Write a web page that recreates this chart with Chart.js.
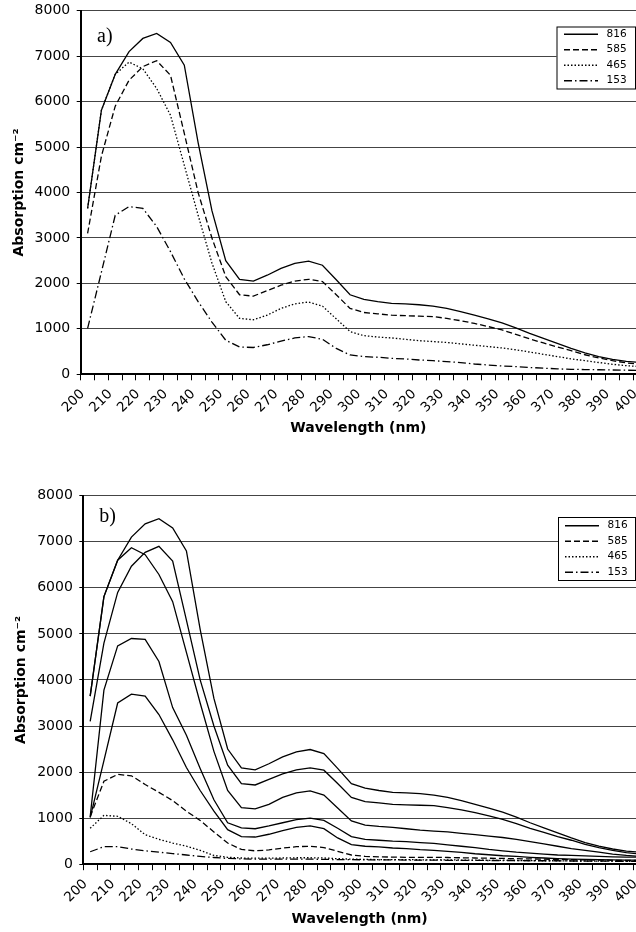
<!DOCTYPE html>
<html>
<head>
<meta charset="utf-8">
<script src="https://cdn.jsdelivr.net/npm/chart.js@4.4.1/dist/chart.umd.min.js"></script>
<style>
html, body { margin: 0; padding: 0; background: #fff; overflow: hidden; }
#wrapA { position: absolute; left: 0; top: 0; width: 636px; height: 440px; }
#wrapB { position: absolute; left: 0; top: 440px; width: 636px; height: 492px; }
canvas { display: block; }
</style>
</head>
<body>
<div id="wrapA"><canvas id="chartA" width="636" height="440"></canvas></div>
<div id="wrapB"><canvas id="chartB" width="636" height="492"></canvas></div>
<script>
// ---- data ----
const wavelengths = [202.5, 207.5, 212.5, 217.5, 222.5, 227.5, 232.5, 237.5, 242.5, 247.5,
  252.5, 257.5, 262.5, 267.5, 272.5, 277.5, 282.5, 287.5, 292.5, 297.5,
  302.5, 307.5, 312.5, 317.5, 322.5, 327.5, 332.5, 337.5, 342.5, 347.5,
  352.5, 357.5, 362.5, 367.5, 372.5, 377.5, 382.5, 387.5, 392.5, 397.5, 402.5];

const xTickValues = [200, 205, 210, 215, 220, 225, 230, 235, 240, 245, 250, 255, 260, 265, 270,
  275, 280, 285, 290, 295, 300, 305, 310, 315, 320, 325, 330, 335, 340, 345, 350, 355, 360,
  365, 370, 375, 380, 385, 390, 395, 400];
const yTickValues = [0, 1000, 2000, 3000, 4000, 5000, 6000, 7000, 8000];

const series816 = [3650, 5810, 6600, 7100, 7390, 7500, 7300, 6800, 5100, 3600,
  2500, 2090, 2050, 2180, 2330, 2440, 2490, 2400, 2080, 1750,
  1650, 1600, 1560, 1550, 1530, 1500, 1450, 1380, 1300, 1220,
  1130, 1020, 900, 790, 680, 570, 470, 390, 330, 285, 260];
const series585 = [3100, 4800, 5900, 6470, 6770, 6900, 6580, 5300, 4000, 3000,
  2150, 1750, 1720, 1840, 1960, 2050, 2090, 2040, 1750, 1450,
  1360, 1330, 1300, 1290, 1280, 1270, 1230, 1180, 1120, 1050,
  975, 880, 780, 690, 600, 520, 430, 360, 300, 250, 220];
const series465 = [3650, 5810, 6600, 6870, 6720, 6290, 5700, 4600, 3500, 2450,
  1600, 1230, 1200, 1300, 1450, 1550, 1590, 1500, 1220, 940,
  850, 820, 800, 770, 740, 720, 700, 670, 640, 610,
  580, 540, 490, 440, 390, 340, 300, 260, 220, 190, 170];
const series153 = [1010, 2250, 3500, 3690, 3650, 3250, 2700, 2100, 1600, 1150,
  750, 600, 590, 650, 730, 800, 830, 770, 570, 425,
  390, 375, 352, 337, 315, 300, 280, 257, 227, 205,
  183, 170, 150, 135, 120, 110, 105, 100, 95, 90, 85];
// panel b, additional curves
const seriesB4 = [1030, 3780, 4740, 4900, 4880, 4400, 3400, 2800, 2080, 1400,
  900, 790, 770, 830, 900, 970, 1000, 950, 780, 600,
  540, 520, 500, 490, 470, 450, 420, 390, 360, 320,
  290, 260, 240, 220, 200, 190, 180, 170, 160, 155, 150];
const seriesB6 = [1030, 1800, 1950, 1920, 1730, 1560, 1380, 1150, 950, 700,
  460, 320, 290, 310, 350, 380, 390, 360, 280, 200,
  170, 160, 155, 150, 150, 150, 145, 140, 135, 130,
  125, 120, 115, 110, 105, 100, 95, 90, 85, 80, 80];
const seriesB7 = [780, 1060, 1040, 880, 640, 540, 460, 390, 300, 190,
  150, 135, 130, 130, 135, 140, 140, 135, 120, 110,
  105, 100, 100, 100, 95, 95, 95, 90, 90, 85,
  85, 80, 80, 75, 75, 70, 70, 65, 65, 60, 60];
const seriesB8 = [270, 380, 380, 330, 290, 260, 230, 200, 170, 145,
  125, 115, 110, 110, 110, 110, 110, 105, 100, 100,
  95, 95, 95, 90, 90, 90, 85, 85, 85, 80,
  80, 80, 75, 75, 75, 70, 70, 65, 65, 60, 60];

const labelsA = ['816', '585', '465', '153'];
const labelsB = ['816', 'b2', 'b3', 'b4', 'b5', '585', '465', '153'];

// ---- styles ----
const DASH = { solid: [], dashed: [6, 3], dotted: [1.5, 2], dashdot: [8, 3, 1.5, 3] };
Chart.defaults.font.family = "'DejaVu Sans', sans-serif";
Chart.defaults.color = '#000';

function pts(values) {
  return values.map((v, i) => ({ x: wavelengths[i], y: v }));
}
function ds(label, values, dash) {
  return {
    label: label, data: pts(values), borderColor: '#000', backgroundColor: '#000',
    borderWidth: 1.3, borderDash: dash, pointRadius: 0, tension: 0, fill: false
  };
}

const panelDecor = {
  id: 'panelDecor',
  afterLayout(chart, args, o) {
    const lg = chart.legend;
    if (!lg) return;
    lg.left = o.legendLeft; lg.top = o.legendTop;
    lg.right = chart.width; lg.bottom = chart.height;
    lg.width = lg.right - lg.left; lg.height = lg.bottom - lg.top;
  },
  beforeDatasetsDraw(chart, args, o) {
    const ctx = chart.ctx;
    const f = o.frame;
    ctx.save();
    ctx.fillStyle = '#fff';
    ctx.fillRect(f.left, f.top, f.right - f.left, f.bottom - f.top);
    ctx.strokeStyle = '#000';
    ctx.lineWidth = 1;
    ctx.strokeRect(f.left + 0.5, f.top + 0.5, f.right - f.left - 1, f.bottom - f.top - 1);
    ctx.restore();
    chart.legend.draw();
    ctx.save();
    ctx.font = o.tagFont;
    ctx.fillStyle = '#000';
    ctx.textAlign = 'left';
    ctx.textBaseline = 'alphabetic';
    ctx.fillText(o.tag, chart.chartArea.left + o.tagDX, chart.chartArea.top + o.tagDY);
    ctx.restore();
  }
};

function makeConfig(datasets, cfg) {
  return {
    type: 'line',
    data: { datasets: datasets },
    plugins: [panelDecor],
    options: {
      responsive: false, animation: false, devicePixelRatio: 1, events: [],
      layout: { padding: { left: 0, right: 0, top: cfg.padTop, bottom: cfg.padBottom } },
      plugins: {
        tooltip: { enabled: false },
        title: { display: false },
        legend: {
          display: true, position: 'chartArea', align: 'start',
          labels: {
            usePointStyle: true, pointStyle: 'line', pointStyleWidth: 34, padding: 5,
            color: '#000', font: { size: 10.5 },
            filter: (item) => cfg.legendSet.includes(item.datasetIndex),
            generateLabels: (chart) => Chart.defaults.plugins.legend.labels.generateLabels(chart).map((it) => {
              const d = chart.data.datasets[it.datasetIndex];
              it.text = ' ' + it.text;
              it.lineDash = d.borderDash;
              it.lineWidth = d.borderWidth;
              it.strokeStyle = '#000';
              return it;
            })
          }
        },
        panelDecor: cfg.decor
      },
      scales: {
        x: {
          type: 'linear', min: 200, max: 401,
          afterBuildTicks: (s) => { s.ticks = xTickValues.map((v) => ({ value: v })); },
          afterFit: (s) => { s.height = cfg.xH; s.paddingLeft = 0; s.paddingRight = 0; },
          ticks: {
            autoSkip: false, minRotation: 45, maxRotation: 45, padding: 6, labelOffset: 2,
            color: '#000', font: { size: 13.5 },
            callback: (v) => (v % 10 === 0 ? String(v) : '')
          },
          grid: { drawOnChartArea: false, drawTicks: true, tickLength: 6, tickColor: '#000', tickWidth: 1 },
          border: { display: true, color: '#000', width: 2 },
          title: { display: true, text: 'Wavelength (nm)', color: '#000',
            font: { size: 14, weight: 'bold' }, padding: { top: 0, bottom: 0 } }
        },
        y: {
          min: 0, max: 8000,
          afterBuildTicks: (s) => { s.ticks = yTickValues.map((v) => ({ value: v })); },
          afterFit: (s) => { s.width = cfg.yW; s.paddingTop = 0; s.paddingBottom = 0; },
          ticks: { padding: 6.5, color: '#000', font: { size: 14 }, callback: (v) => String(v) },
          grid: { color: '#444', lineWidth: 1, drawTicks: true, tickLength: 4, tickColor: '#000' },
          border: { display: true, color: '#000', width: 2 },
          title: { display: true, text: 'Absorption cm⁻²', color: '#000',
            font: { size: 14, weight: 'bold' }, padding: { top: cfg.yTitlePad, bottom: 0 } }
        }
      }
    }
  };
}

new Chart(document.getElementById('chartA'), makeConfig([
  ds(labelsA[0], series816, DASH.solid),
  ds(labelsA[1], series585, DASH.dashed),
  ds(labelsA[2], series465, DASH.dotted),
  ds(labelsA[3], series153, DASH.dashdot)
], {
  padTop: 10.7, padBottom: 3.1, xH: 62.6, yW: 80.7, yTitlePad: 10.6,
  legendSet: [0, 1, 2, 3],
  decor: { legendLeft: 559, legendTop: 24, frame: { left: 556.5, top: 26.5, right: 636, bottom: 89.5 },
    tag: 'a)', tagFont: '20px "Liberation Serif"', tagDX: 16.3, tagDY: 31 }
}));

new Chart(document.getElementById('chartB'), makeConfig([
  ds(labelsB[0], series816, DASH.solid),
  ds(labelsB[1], series585, DASH.solid),
  ds(labelsB[2], series465, DASH.solid),
  ds(labelsB[3], seriesB4, DASH.solid),
  ds(labelsB[4], series153, DASH.solid),
  ds(labelsB[5], seriesB6, DASH.dashed),
  ds(labelsB[6], seriesB7, DASH.dotted),
  ds(labelsB[7], seriesB8, DASH.dashdot)
], {
  padTop: 55.7, padBottom: 4.6, xH: 63.2, yW: 83.3, yTitlePad: 12.6,
  legendSet: [0, 5, 6, 7],
  decor: { legendLeft: 560, legendTop: 75.5, frame: { left: 558, top: 77, right: 636, bottom: 141 },
    tag: 'b)', tagFont: '20px "Liberation Serif"', tagDX: 16, tagDY: 26.5 }
}));
</script>
</body>
</html>
